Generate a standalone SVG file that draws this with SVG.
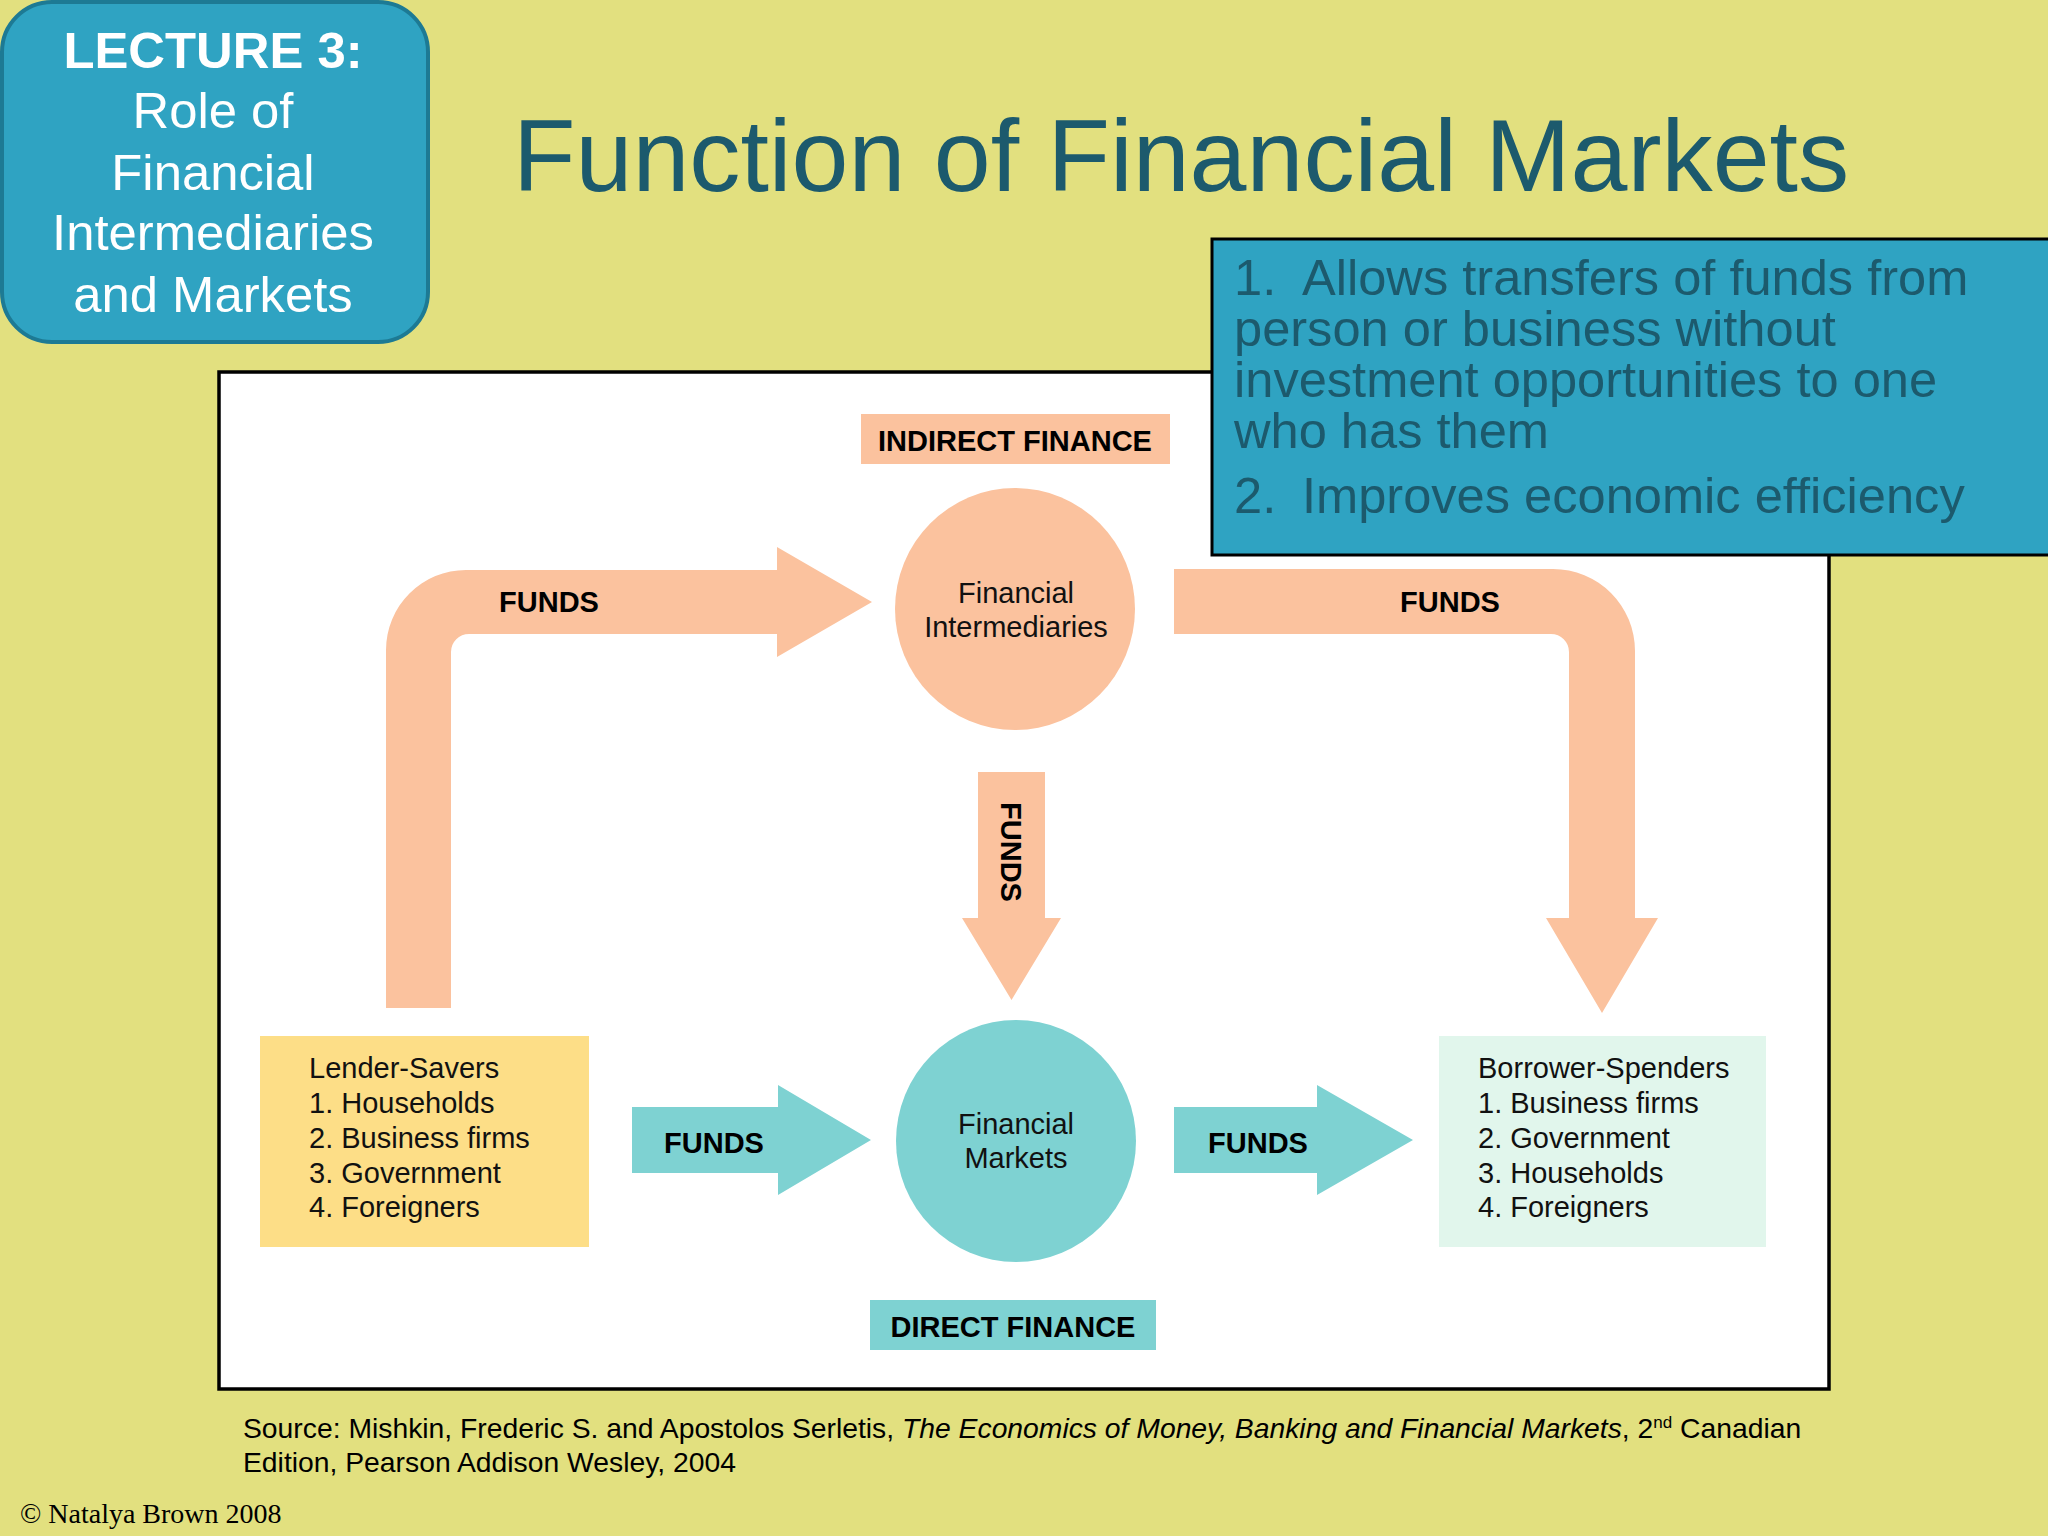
<svg xmlns="http://www.w3.org/2000/svg" width="2048" height="1536" viewBox="0 0 2048 1536">
<style>
.sans{font-family:"Liberation Sans",Arial,sans-serif}
.lbl{font-family:"Liberation Sans",Arial,sans-serif;font-weight:bold;font-size:29px;fill:#000}
.node{font-family:"Liberation Sans",Arial,sans-serif;font-size:29px;fill:#111}
.peach{fill:#FBC29E}
.teal{fill:#7ED2D2}
.pt{font-family:"Liberation Sans",Arial,sans-serif;font-size:50.6px;fill:#1C5A6D}
</style>
<rect x="0" y="0" width="2048" height="1536" fill="#E2E07F"/>

<g id="lecture-box">
<rect x="2" y="2" width="426" height="340" rx="50" ry="50" fill="#2FA3C2" stroke="#1D7A94" stroke-width="4"/>
<g class="sans" fill="#FFFFFF" text-anchor="middle" font-size="50.8">
<text x="213" y="68" font-weight="bold">LECTURE 3:</text>
<text x="213" y="128">Role of</text>
<text x="213" y="190">Financial</text>
<text x="213" y="250">Intermediaries</text>
<text x="213" y="312">and Markets</text>
</g>
</g>

<g id="title">
<text x="513" y="191" class="sans" font-size="102.3" fill="#1C5A6D">Function of Financial Markets</text>
</g>

<g id="diagram-frame">
<rect x="219" y="372" width="1610" height="1017" fill="#FFFFFF" stroke="#000" stroke-width="3.5"/>
</g>

<g id="connectors">
<path class="peach" d="M386,1008 L386,650 A80,80 0 0 1 466,570 L777,570 L777,547 L872,602 L777,657 L777,634 L469,634 A18,18 0 0 0 451,652 L451,1008 Z"/>
<text class="lbl" x="549" y="612" text-anchor="middle">FUNDS</text>
<path class="peach" d="M1174,569 L1553,569 A82,82 0 0 1 1635,651 L1635,918 L1658,918 L1602,1013 L1546,918 L1569,918 L1569,652 A18,18 0 0 0 1551,634 L1174,634 Z"/>
<text class="lbl" x="1450" y="612" text-anchor="middle">FUNDS</text>
<path class="peach" d="M978,772 L1045,772 L1045,918 L1061,918 L1011.5,1000 L962,918 L978,918 Z"/>
<text class="lbl" transform="translate(1001,852) rotate(90)" text-anchor="middle">FUNDS</text>
<path class="teal" d="M632,1107 L778,1107 L778,1085 L871,1140 L778,1195 L778,1173 L632,1173 Z"/>
<text class="lbl" x="714" y="1153" text-anchor="middle">FUNDS</text>
<path class="teal" d="M1174,1107 L1317,1107 L1317,1085 L1413,1140 L1317,1195 L1317,1173 L1174,1173 Z"/>
<text class="lbl" x="1258" y="1153" text-anchor="middle">FUNDS</text>
</g>

<g id="indirect-finance">
<rect class="peach" x="861" y="414" width="309" height="50"/>
<text class="lbl" x="1015" y="451" text-anchor="middle">INDIRECT FINANCE</text>
</g>

<g id="financial-intermediaries">
<ellipse class="peach" cx="1015" cy="609" rx="120" ry="121"/>
<text class="node" x="1016" y="603" text-anchor="middle">Financial</text>
<text class="node" x="1016" y="637" text-anchor="middle">Intermediaries</text>
</g>

<g id="financial-markets">
<ellipse class="teal" cx="1016" cy="1141" rx="120" ry="121"/>
<text class="node" x="1016" y="1134" text-anchor="middle">Financial</text>
<text class="node" x="1016" y="1168" text-anchor="middle">Markets</text>
</g>

<g id="lender-savers">
<rect x="260" y="1036" width="329" height="211" fill="#FDDE87"/>
<g class="node">
<text x="309" y="1078">Lender-Savers</text>
<text x="309" y="1113">1. Households</text>
<text x="309" y="1148">2. Business firms</text>
<text x="309" y="1183">3. Government</text>
<text x="309" y="1217">4. Foreigners</text>
</g>
</g>

<g id="borrower-spenders">
<rect x="1439" y="1036" width="327" height="211" fill="#E1F6EC"/>
<g class="node">
<text x="1478" y="1078">Borrower-Spenders</text>
<text x="1478" y="1113">1. Business firms</text>
<text x="1478" y="1148">2. Government</text>
<text x="1478" y="1183">3. Households</text>
<text x="1478" y="1217">4. Foreigners</text>
</g>
</g>

<g id="direct-finance">
<rect class="teal" x="870" y="1300" width="286" height="50"/>
<text class="lbl" x="1013" y="1337" text-anchor="middle">DIRECT FINANCE</text>
</g>

<g id="points-box">
<rect x="1212" y="239" width="840" height="316" fill="#2FA3C2" stroke="#000" stroke-width="3"/>
<text class="pt" x="1234" y="295">1.<tspan x="1302">Allows transfers of funds from</tspan></text>
<text class="pt" x="1234" y="346">person or business without</text>
<text class="pt" x="1234" y="397">investment opportunities to one</text>
<text class="pt" x="1234" y="448">who has them</text>
<text class="pt" x="1234" y="513">2.<tspan x="1302">Improves economic efficiency</tspan></text>
</g>

<g id="source">
<text class="sans" x="243" y="1438" font-size="28.3" fill="#000">Source: Mishkin, Frederic S. and Apostolos Serletis, <tspan font-style="italic">The Economics of Money, Banking and Financial Markets</tspan>, 2<tspan font-size="17" dy="-10">nd</tspan><tspan dy="10"> Canadian</tspan></text>
<text class="sans" x="243" y="1472" font-size="28.3" fill="#000">Edition, Pearson Addison Wesley, 2004</text>
</g>

<g id="copyright">
<text x="20" y="1523" font-family="'Liberation Serif','Times New Roman',serif" font-size="28" fill="#000">© Natalya Brown 2008</text>
</g>
</svg>
